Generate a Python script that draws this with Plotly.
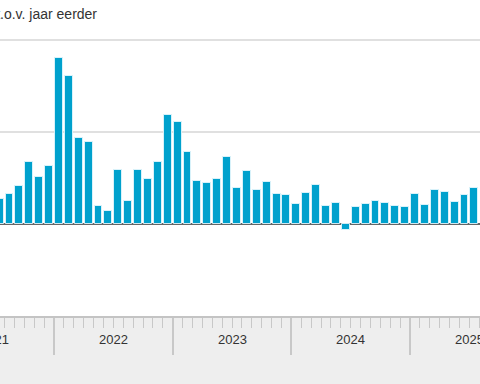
import plotly.graph_objects as go

# Monthly values, July 2021 through July 2025 (% change vs. a year earlier)
values_2021 = [2.7, 3.2, 4.1, 6.7, 5.1, 6.3]            # Jul-Dec 2021
values_2022 = [18.0, 16.0, 9.3, 8.9, 1.9, 1.4, 5.8, 2.5, 5.9, 4.9, 6.7, 11.8]
values_2023 = [11.1, 7.8, 4.7, 4.4, 4.9, 7.3, 3.9, 5.7, 3.7, 4.5, 3.2, 3.1]
values_2024 = [2.2, 3.3, 4.2, 1.9, 2.3, -0.7, 1.8, 2.2, 2.5, 2.3, 1.9, 1.8]
values_2025 = [3.2, 2.1, 3.7, 3.5, 2.4, 3.1, 3.9]       # Jan-Jul 2025
years = ["2021", "2022", "2023", "2024", "2025"]
y_ticks = [-10, 0, 10, 20]
title_text = "% mutaties t.o.v. jaar eerder"

values = values_2021 + values_2022 + values_2023 + values_2024 + values_2025
month_idx = list(range(len(values)))  # 0 = Jul 2021

# Year boundaries / centres in month-index units
first_month = 6  # July 2021 -> 0-based month 6
year_starts = [12 * k - first_month for k in range(len(years))]  # index of Jan each year
boundaries = [s - 0.5 for s in year_starts if s > 0]
centres = [s + 5.5 for s in year_starts]

X0, X1 = 0.04, 48.57
def xpaper(v):
    return (v - X0) / (X1 - X0)

TOP, BOTTOM = 35, 316
PLOT_H = BOTTOM - TOP
fig = go.Figure()
fig.add_trace(go.Bar(
    x=month_idx, y=values, width=0.8,
    marker=dict(color="#00a1cd", line=dict(color="rgba(225,245,252,0.9)", width=1)),
    hoverinfo="skip",
))

# grey band below the plot area
fig.add_shape(type="rect", xref="paper", yref="paper", x0=-0.01, x1=1.01,
              y0=-(384 - BOTTOM) / PLOT_H, y1=0, fillcolor="#eeeeee", line_width=0, layer="below")

for yr, c in zip(years, centres):
    fig.add_annotation(x=xpaper(c), y=-23 / PLOT_H, xref="paper", yref="paper",
                       text=yr, showarrow=False, xanchor="center", yanchor="middle",
                       font=dict(family="Liberation Sans, Arial", size=13, color="#333333"))

fig.add_annotation(x=99 / 480, y=(BOTTOM - 14.5) / PLOT_H, xref="paper", yref="paper",
                   text=title_text, showarrow=False, xanchor="right", yanchor="middle",
                   font=dict(family="Liberation Sans, Arial", size=14, color="#333333"))

fig.update_layout(
    width=480, height=384,
    margin=dict(l=0, r=0, t=TOP, b=384 - BOTTOM),
    paper_bgcolor="white", plot_bgcolor="white",
    showlegend=False, bargap=0,
    xaxis=dict(range=[X0, X1], showgrid=False, zeroline=False,
               showline=True, linecolor="#c4c4c4", linewidth=2,
               tickmode="array", tickvals=boundaries, ticks="outside",
               ticklen=37, tickwidth=1.5, tickcolor="#c8c8c8", showticklabels=False,
               minor=dict(tick0=0.5, dtick=1, ticks="outside", ticklen=10,
                          tickwidth=1, tickcolor="#c8c8c8", showgrid=False)),
    yaxis=dict(range=[y_ticks[0], y_ticks[-1] + 0.5], tickmode="array", tickvals=y_ticks,
               showgrid=True, gridcolor="#e0e0e0", gridwidth=1.5,
               zeroline=True, zerolinecolor="#666666", zerolinewidth=2,
               showticklabels=False, showline=False),
)

fig.write_html("out.html")
